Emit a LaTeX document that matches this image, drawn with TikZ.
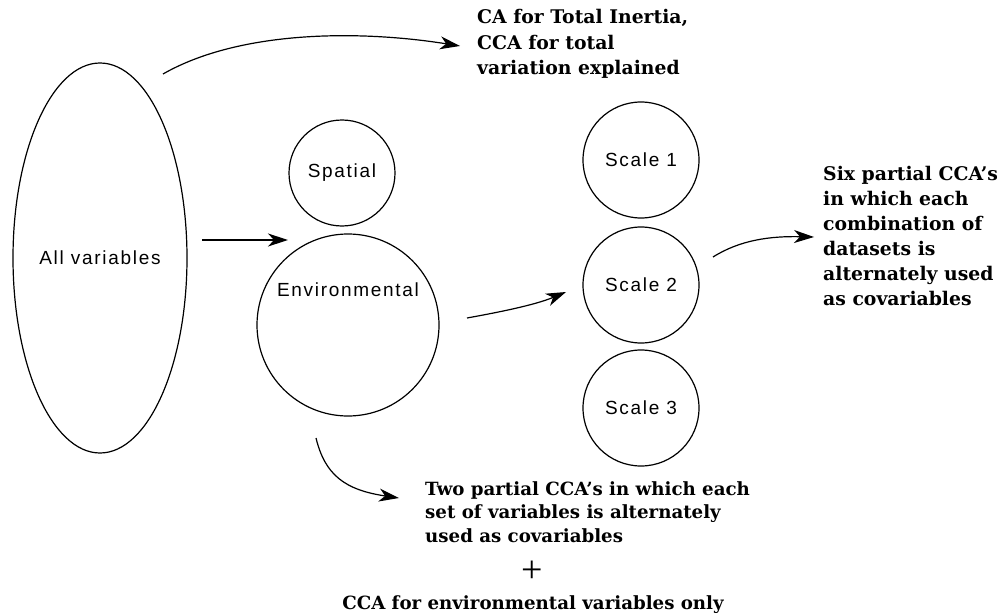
\documentclass[tikz,border=0pt]{standalone}
\usepackage{fontspec}
\setmainfont{DejaVu Serif}
\setsansfont{Liberation Sans}[LetterSpace=9]
\newfontfamily\plusfont{Liberation Serif}
\usetikzlibrary{arrows.meta,shapes.geometric}
\begin{document}
\begin{tikzpicture}[x=1pt,y=-1pt,
  blob/.style={draw,line width=1.2pt,circle,inner sep=0pt},
  tag/.style={inner sep=0pt,font=\sffamily\fontsize{19}{22}\selectfont},
  note/.style={align=left,anchor=base west,inner sep=0pt,font=\bfseries\fontsize{18.8}{25}\selectfont},
  flow/.style={line width=1.2pt,-{Stealth[length=20pt,width=13pt,inset=6pt]}}]
  \useasboundingbox (0,0) rectangle (1000,615);
  % data sets
  \node[blob,ellipse,minimum width=174,minimum height=390] (all) at (100,258) {};
  \node[blob,minimum size=106] (spat) at (342,173) {};
  \node[blob,minimum size=182] (env) at (348,325) {};
  \node[blob,minimum size=116] (s1) at (641,160) {};
  \node[blob,minimum size=116] (s2) at (641,285) {};
  \node[blob,minimum size=116] (s3) at (641,408) {};
  \node[tag] (allt) at (all.center) {All variables};
  \node[tag] (spatt) at (spat.center) {Spatial};
  \node[tag] (envt) at (348,290) {Environmental};
  \node[tag] (s1t) at (s1.center) {Scale 1};
  \node[tag] (s2t) at (s2.center) {Scale 2};
  \node[tag] (s3t) at (s3.center) {Scale 3};
  % analyses (base anchor sits on the last line)
  \node[note,font=\bfseries\fontsize{18.8}{25.5}\selectfont] (top) at (477,75) {CA for Total Inertia,\\CCA for total\\variation explained};
  \node[note] (six) at (823,305) {Six partial CCA's\\in which each\\combination of\\datasets is\\alternately used\\as covariables};
  \node[note,font=\bfseries\fontsize{18.2}{23.5}\selectfont] (two) at (425,542) {Two partial CCA's in which each\\set of variables is alternately\\used as covariables};
  \node[font=\plusfont\fontsize{38}{38}\selectfont,inner sep=0pt] (plus) at (532,572) {+};
  \node[font=\bfseries\fontsize{18.2}{22}\selectfont,inner sep=0pt,anchor=base] (envonly) at (533,609) {CCA for environmental variables only};
  % connector ends
  \coordinate (a1) at (163,74);
  \coordinate (b1) at (460,46);
  \coordinate (a2) at (202,240);
  \coordinate (b2) at (288,240);
  \coordinate (a3) at (467,318);
  \coordinate (b3) at (566,292);
  \coordinate (a4) at (713,257);
  \coordinate (b4) at (814,237);
  \coordinate (a5) at (316,438);
  \coordinate (b5) at (399,498);
  % connectors
  \draw[flow] (a1) .. controls (240,30) and (360,30) .. (b1);
  \draw[flow] (a2) -- (b2);
  \draw[flow] (a3) .. controls (500,312) and (535,305) .. (b3);
  \draw[flow] (a4) .. controls (740,240) and (770,236) .. (b4);
  \draw[flow] (a5) .. controls (325,475) and (345,490) .. (b5);
\end{tikzpicture}
\end{document}
